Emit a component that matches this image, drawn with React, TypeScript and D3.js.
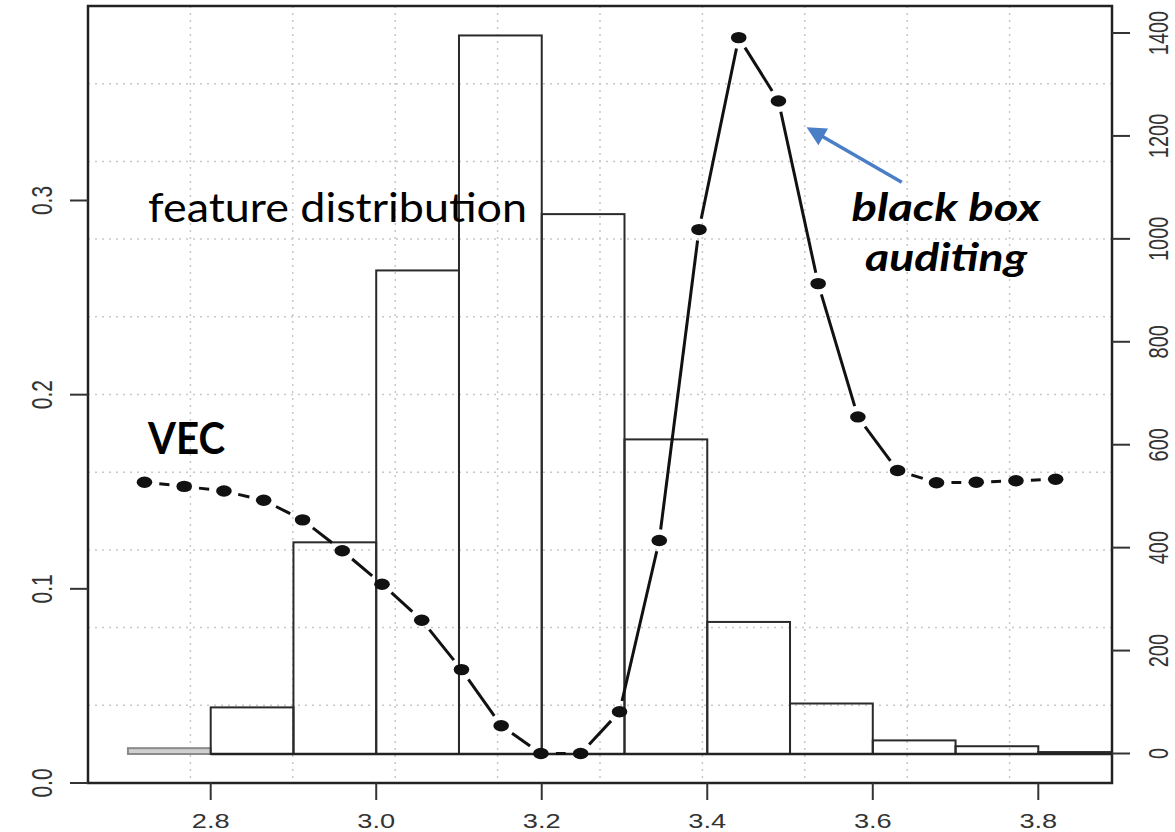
import React from "react";
import * as d3 from "d3";

// histogram of the feature (bin starts, density)
const binStarts = [2.7, 2.8, 2.9, 3.0, 3.1, 3.2, 3.3, 3.4, 3.5, 3.6, 3.7, 3.8];
const binDensity = [0.003, 0.024, 0.109, 0.249, 0.370, 0.278, 0.162, 0.068, 0.026, 0.007, 0.004, 0.001];
const binWidth = 0.1;

// influence curve (feature value, score on the right axis)
const curveX = [2.720, 2.768, 2.816, 2.864, 2.911, 2.959, 3.007, 3.055, 3.103, 3.151, 3.199, 3.247,
  3.294, 3.342, 3.390, 3.438, 3.486, 3.534, 3.582, 3.630, 3.677, 3.725, 3.773, 3.821];
const curveY = [527, 519, 510, 492, 454, 394, 329, 259, 163, 54, 0, 0,
  81, 414, 1018, 1391, 1268, 913, 654, 550, 526, 527, 530, 533];

const xTicks = [2.8, 3.0, 3.2, 3.4, 3.6, 3.8];
const leftTicks = [0.0, 0.1, 0.2, 0.3];
const rightTicks = [0, 200, 400, 600, 800, 1000, 1200, 1400];

const W = 1175;
const H = 832;
const box = { left: 88, right: 1112, top: 6, bottom: 783 };
const stretch = 1.36; // the original R plot was widened horizontally
const labelStretch = 1.42;

const x = d3.scaleLinear().domain([2.8, 3.8]).range([210.7, 1038.3]);
const leftY = d3.scaleLinear().domain([0, 0.3]).range([box.bottom, 200.5]);
const histY = d3.scaleLinear().domain([0, 0.1]).range([754, 754 - 194.2]);
const rightY = d3.scaleLinear().domain([0, 1400]).range([753.5, 33]);
const gridX = d3.scaleLinear().domain([0, 10]).range([box.left, box.right]);
const gridY = d3.scaleLinear().domain([0, 10]).range([box.bottom, box.top]);

const axisFont = "'Liberation Sans', Arial, sans-serif";
const noteFont = "Lato, 'Open Sans', sans-serif";
const fmt = d3.format(".1f");

function segments() {
  const pts = curveX.map((v, i) => [x(v), rightY(curveY[i])]);
  const gap = 11;
  const out = [];
  for (let i = 0; i < pts.length - 1; i++) {
    const [x1, y1] = pts[i];
    const [x2, y2] = pts[i + 1];
    const dx = (x2 - x1) / stretch;
    const dy = y2 - y1;
    const len = Math.hypot(dx, dy);
    if (len <= 2 * gap) continue;
    const ux = dx / len;
    const uy = dy / len;
    out.push({
      x1: x1 + ux * gap * stretch,
      y1: y1 + uy * gap,
      x2: x2 - ux * gap * stretch,
      y2: y2 - uy * gap,
    });
  }
  return out;
}

export default function App() {
  const gridLines = d3.range(1, 10);
  const segs = segments();
  const arrowFrom = [x(3.635), rightY(1110)];
  const arrowTo = [x(3.524), rightY(1213)];

  return (
    <svg
      width={W}
      height={H}
      style={{ position: "absolute", left: 0, top: 0, background: "#fff" }}
    >
      <defs>
        <clipPath id="plot-clip">
          <rect x={box.left} y={box.top} width={box.right - box.left} height={box.bottom - box.top} />
        </clipPath>
        <marker id="arrow-head" viewBox="0 0 10 10" refX="8" refY="5" markerWidth="6.5" markerHeight="5.5" orient="auto">
          <path d="M0,0 L10,5 L0,10 z" fill="#4a7ec7" />
        </marker>
      </defs>

      <rect x={0} y={0} width={W} height={H} fill="#fff" />

      {/* dotted grid */}
      <g stroke="#c8c8c8" strokeWidth={1.5} strokeDasharray="2 5">
        {gridLines.map((t) => (
          <line key={"gx" + t} x1={gridX(t)} x2={gridX(t)} y1={box.top} y2={box.bottom} />
        ))}
        {gridLines.map((t) => (
          <line key={"gy" + t} x1={box.left} x2={box.right} y1={gridY(t)} y2={gridY(t)} />
        ))}
      </g>

      {/* histogram */}
      <g clipPath="url(#plot-clip)">
        {binStarts.map((b, i) => (
          <rect
            key={b}
            x={x(b)}
            y={histY(binDensity[i])}
            width={x(b + binWidth) - x(b)}
            height={histY(0) - histY(binDensity[i])}
            fill={i === 0 ? "#cfcfcf" : "none"}
            stroke={i === 0 ? "#8a8a8a" : "#2a2a2a"}
            strokeWidth={2}
          />
        ))}
        <line x1={x(2.8)} x2={box.right} y1={histY(0)} y2={histY(0)} stroke="#222" strokeWidth={2.5} />
      </g>

      {/* curve: points joined by gapped segments */}
      <g stroke="#111" strokeWidth={3} strokeLinecap="butt">
        {segs.map((s, i) => (
          <line key={i} x1={s.x1} y1={s.y1} x2={s.x2} y2={s.y2} />
        ))}
      </g>
      <g fill="#111">
        {curveX.map((v, i) => (
          <ellipse key={i} cx={x(v)} cy={rightY(curveY[i])} rx={7.8} ry={5.7} />
        ))}
      </g>

      {/* frame */}
      <rect
        x={box.left}
        y={box.top}
        width={box.right - box.left}
        height={box.bottom - box.top}
        fill="none"
        stroke="#222"
        strokeWidth={2.5}
      />

      {/* bottom axis */}
      <g fontFamily={axisFont} fontSize={20} fill="#333">
        {xTicks.map((t) => (
          <g key={t}>
            <line x1={x(t)} x2={x(t)} y1={box.bottom} y2={box.bottom + 17} stroke="#333" strokeWidth={2} />
            <text
              transform={`translate(${x(t)},${box.bottom + 45}) scale(${stretch},1)`}
              textAnchor="middle"
            >
              {fmt(t)}
            </text>
          </g>
        ))}
      </g>

      {/* left axis */}
      <g fontFamily={axisFont} fontSize={21} fill="#333">
        {leftTicks.map((t) => (
          <g key={t}>
            <line x1={box.left - 18} x2={box.left} y1={leftY(t)} y2={leftY(t)} stroke="#333" strokeWidth={2} />
            <text
              transform={`translate(${box.left - 36},${leftY(t)}) scale(${labelStretch},1) rotate(-90)`}
              textAnchor="middle"
            >
              {fmt(t)}
            </text>
          </g>
        ))}
      </g>

      {/* right axis */}
      <g fontFamily={axisFont} fontSize={20} fill="#333">
        {rightTicks.map((t) => (
          <g key={t}>
            <line x1={box.right} x2={box.right + 18} y1={rightY(t)} y2={rightY(t)} stroke="#333" strokeWidth={2} />
            <text
              transform={`translate(${box.right + 56},${rightY(t)}) scale(${labelStretch},1) rotate(-90)`}
              textAnchor="middle"
            >
              {t}
            </text>
          </g>
        ))}
      </g>

      {/* annotations */}
      <text x={148} y={222} fontFamily={noteFont} fontSize={40} fill="#000" textLength={379} lengthAdjust="spacingAndGlyphs">
        feature distribution
      </text>
      <text x={148} y={454} fontFamily={noteFont} fontSize={44} fontWeight="bold" fill="#000" textLength={77} lengthAdjust="spacingAndGlyphs">
        VEC
      </text>
      <g fontFamily={noteFont} fontSize={39} fontWeight="bold" fontStyle="italic" fill="#000" textAnchor="middle">
        <text x={946} y={221} textLength={189} lengthAdjust="spacingAndGlyphs">black box</text>
        <text x={946} y={271} textLength={162} lengthAdjust="spacingAndGlyphs">auditing</text>
      </g>
      <line
        x1={arrowFrom[0]}
        y1={arrowFrom[1]}
        x2={arrowTo[0]}
        y2={arrowTo[1]}
        stroke="#4a7ec7"
        strokeWidth={3.5}
        markerEnd="url(#arrow-head)"
      />
    </svg>
  );
}
